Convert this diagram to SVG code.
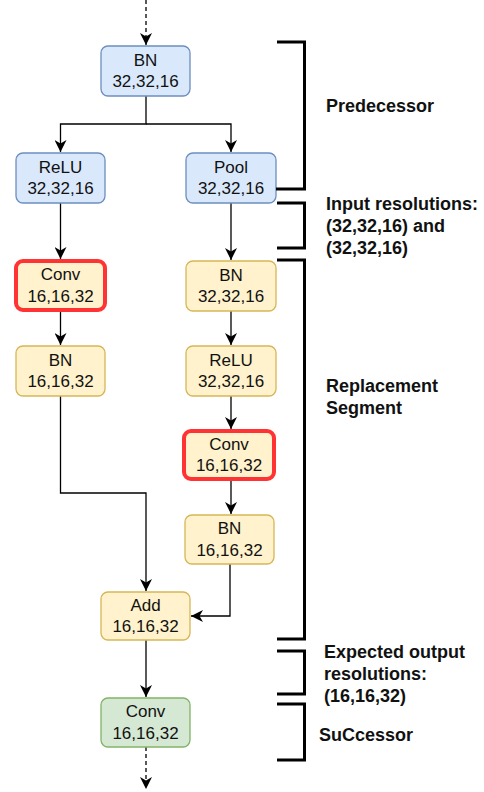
<svg xmlns="http://www.w3.org/2000/svg" width="484" height="792" viewBox="0 0 484 792">
<defs>
<marker id="arr" markerUnits="userSpaceOnUse" viewBox="0 0 12 12" refX="12" refY="6" markerWidth="12" markerHeight="12" orient="auto">
<path d="M0,0 L12,6 L0,12 L3.5,6 z" fill="#000"/>
</marker>
</defs>
<style>
.blue{fill:#dae8fc;stroke:#6c8ebf;stroke-width:1.3}
.yel{fill:#fff2cc;stroke:#d6b656;stroke-width:1.3}
.grn{fill:#d5e8d4;stroke:#82b366;stroke-width:1.3}
.red{fill:#fff2cc;stroke:#ff3333;stroke-width:4}
.nt{font-family:"Liberation Sans",Arial,sans-serif;font-size:17px;fill:#111;text-anchor:middle}
.lb{font-family:"Liberation Sans",Arial,sans-serif;font-size:18px;font-weight:bold;fill:#111}
.c{fill:none;stroke:#000;stroke-width:1.3}
.br{fill:none;stroke:#000;stroke-width:3}
</style>
<rect width="484" height="792" fill="#fff"/>
<g id="connectors">
<path class="c" d="M146,0 V45" stroke-dasharray="4,3" marker-end="url(#arr)"/>
<path class="c" d="M146,96 V124 H60.5 V152" marker-end="url(#arr)"/>
<path class="c" d="M146,124 H231 V152" marker-end="url(#arr)"/>
<path class="c" d="M60.5,203 V259" marker-end="url(#arr)"/>
<path class="c" d="M231,203 V260" marker-end="url(#arr)"/>
<path class="c" d="M60.5,311 V345" marker-end="url(#arr)"/>
<path class="c" d="M231,311 V345" marker-end="url(#arr)"/>
<path class="c" d="M231,396 V429" marker-end="url(#arr)"/>
<path class="c" d="M231,481 V514" marker-end="url(#arr)"/>
<path class="c" d="M60.5,396 V493 H146 V591" marker-end="url(#arr)"/>
<path class="c" d="M230,564 V616 H191" marker-end="url(#arr)"/>
<path class="c" d="M146,640 V697" marker-end="url(#arr)"/>
<path class="c" d="M146,747 V789" stroke-dasharray="4,3" marker-end="url(#arr)"/>
</g>
<g id="n-bn0"><rect class="blue" x="101" y="46" width="89" height="50" rx="7"/><text class="nt" x="145.5" y="65.5">BN</text><text class="nt" x="145.5" y="87">32,32,16</text></g>
<g id="n-relu0"><rect class="blue" x="16" y="153" width="89" height="50" rx="7"/><text class="nt" x="60.5" y="172.5">ReLU</text><text class="nt" x="60.5" y="194">32,32,16</text></g>
<g id="n-pool"><rect class="blue" x="186" y="153" width="90" height="50" rx="7"/><text class="nt" x="231" y="172.5">Pool</text><text class="nt" x="231" y="194">32,32,16</text></g>
<g id="n-convL"><rect class="red" x="16" y="261" width="89" height="49" rx="7"/><text class="nt" x="60.5" y="280">Conv</text><text class="nt" x="60.5" y="301.5">16,16,32</text></g>
<g id="n-bnR1"><rect class="yel" x="186" y="261" width="90" height="50" rx="7"/><text class="nt" x="231" y="280.5">BN</text><text class="nt" x="231" y="302">32,32,16</text></g>
<g id="n-bnL"><rect class="yel" x="16" y="346" width="89" height="50" rx="7"/><text class="nt" x="60.5" y="365.5">BN</text><text class="nt" x="60.5" y="387">16,16,32</text></g>
<g id="n-reluR"><rect class="yel" x="186" y="346" width="90" height="50" rx="7"/><text class="nt" x="231" y="365.5">ReLU</text><text class="nt" x="231" y="387">32,32,16</text></g>
<g id="n-convR"><rect class="red" x="184" y="431" width="90" height="48" rx="7"/><text class="nt" x="229" y="449.5">Conv</text><text class="nt" x="229" y="471">16,16,32</text></g>
<g id="n-bnR2"><rect class="yel" x="185" y="515" width="89" height="49" rx="7"/><text class="nt" x="229.5" y="534">BN</text><text class="nt" x="229.5" y="555.5">16,16,32</text></g>
<g id="n-add"><rect class="yel" x="101" y="592" width="89" height="48" rx="7"/><text class="nt" x="145.5" y="610.5">Add</text><text class="nt" x="145.5" y="632">16,16,32</text></g>
<g id="n-convG"><rect class="grn" x="101" y="698" width="89" height="49" rx="7"/><text class="nt" x="145.5" y="717">Conv</text><text class="nt" x="145.5" y="738.5">16,16,32</text></g>
<g id="brackets">
<path class="br" d="M277,42 H304.5 V189 H276"/>
<path class="br" d="M277,203 H304.5 V248 H277"/>
<path class="br" d="M277,260 H304.5 V639 H277"/>
<path class="br" d="M277,651 H304.5 V694 H277"/>
<path class="br" d="M277,704 H304.5 V760 H277"/>
</g>
<g id="labels">
<text class="lb" x="326" y="112">Predecessor</text>
<text class="lb" x="326" y="210">Input resolutions:</text>
<text class="lb" x="326" y="232">(32,32,16) and</text>
<text class="lb" x="326" y="254">(32,32,16)</text>
<text class="lb" x="326" y="392">Replacement</text>
<text class="lb" x="326" y="414">Segment</text>
<text class="lb" x="324" y="658">Expected output</text>
<text class="lb" x="324" y="680">resolutions:</text>
<text class="lb" x="324" y="702">(16,16,32)</text>
<text class="lb" x="319" y="741">SuCcessor</text>
</g>
</svg>
